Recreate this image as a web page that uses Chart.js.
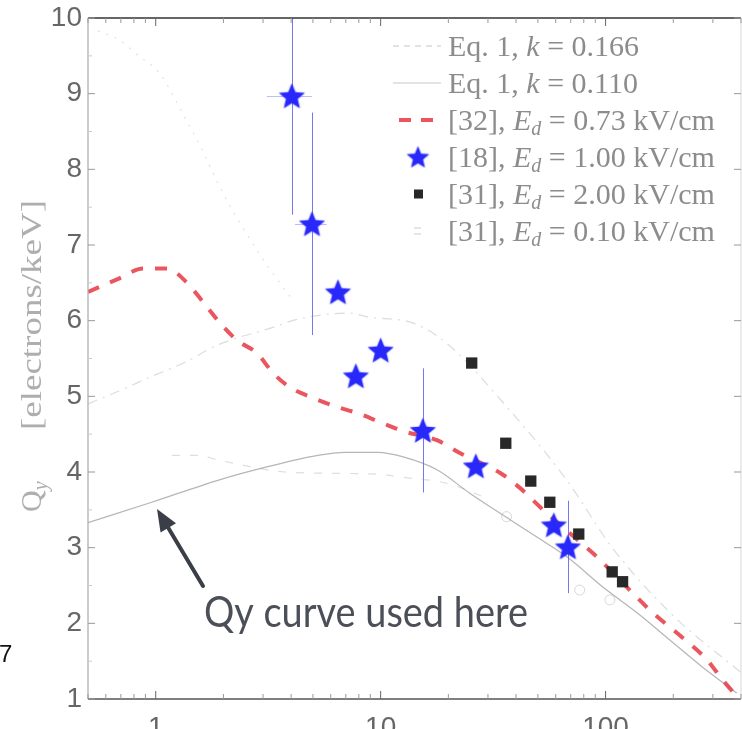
<!DOCTYPE html>
<html><head><meta charset="utf-8">
<script src="https://cdn.jsdelivr.net/npm/chart.js@4.4.0/dist/chart.umd.min.js"></script>
<style>
html,body{margin:0;padding:0;overflow:hidden;background:#fff;width:742px;height:729px}
#wrap{position:absolute;left:0;top:0;width:742px;height:760px}
canvas{display:block}
</style></head><body><div id="wrap"><canvas id="c" width="742" height="760"></canvas></div>
<script>
// ---------- data ----------
const xTickValues = [1, 10, 100];
const xTickLabels = ['1', '10', '100'];
const yTickValues = [1, 2, 3, 4, 5, 6, 7, 8, 9, 10];

// Eq. 1, k = 0.166 (dash-dot, faint)
const eq166X = [0.5, 0.75, 0.92, 1.35, 1.89, 3.39, 4.16, 7.3, 8.7, 13.9, 19.7, 36.4, 67.3, 107, 200, 400];
const eq166Y = [4.9, 5.12, 5.24, 5.45, 5.68, 5.92, 6.01, 6.10, 6.05, 5.97, 5.70, 4.86, 3.89, 3.0, 2.1, 1.35];

// Eq. 1, k = 0.110 (solid, faint)
const eq110X = [0.5, 0.96, 1.89, 3.15, 5.26, 6.94, 9.72, 12.6, 17.8, 24.9, 37.6, 49.5, 67.3, 97.2, 138, 193, 270, 383];
const eq110Y = [3.33, 3.60, 3.89, 4.07, 4.22, 4.26, 4.26, 4.20, 4.03, 3.72, 3.37, 3.14, 2.88, 2.48, 2.14, 1.78, 1.42, 1.08];

// [32], Ed = 0.73 kV/cm (red dashed)
const ref32X = [0.5, 0.69, 0.88, 1.12, 1.38, 1.62, 1.93, 2.30, 2.82, 3.32, 3.95, 5.0, 6.4, 7.85, 9.93, 12.6, 17.8, 22.5, 33.9, 41.6, 51.0, 69.4, 91.4, 128, 162, 220, 282, 332, 395];
const ref32Y = [6.38, 6.56, 6.69, 6.69, 6.50, 6.25, 5.97, 5.74, 5.57, 5.31, 5.12, 4.98, 4.86, 4.78, 4.66, 4.54, 4.42, 4.25, 3.99, 3.79, 3.54, 3.19, 2.88, 2.44, 2.14, 1.81, 1.52, 1.25, 0.99];

// [18], Ed = 1.00 kV/cm (blue stars)
const ref18X = [4.03, 4.95, 6.46, 7.76, 10.0, 15.4, 26.5, 58.9, 68];
const ref18Y = [8.97, 7.28, 6.38, 5.27, 5.61, 4.55, 4.08, 3.30, 3.01];
const ref18YErr = [1.57, 1.47, 0, 0, 0, 0.82, 0, 0, 0.61];
const ref18XLow = [3.12, 4.16, null, null, null, null, null, null, null];
const ref18XHigh = [4.95, 5.76, null, null, null, null, null, null, null];

// [31], Ed = 2.00 kV/cm (black squares)
const ref31aX = [25.4, 36.0, 46.5, 56.5, 76, 107, 119];
const ref31aY = [5.44, 4.38, 3.88, 3.60, 3.18, 2.68, 2.55];

// [31], Ed = 0.10 kV/cm (faint markers)
const ref31bX = [36.3, 76.7, 104.5];
const ref31bY = [3.41, 2.44, 2.31];

// further faint curves without legend entry
const extraTopX = [0.553, 0.69, 0.83, 1.04, 1.35, 1.57, 1.97, 2.97, 4.07];
const extraTopY = [9.83, 9.71, 9.51, 9.27, 8.68, 8.32, 7.71, 6.83, 6.27];
const extraDashX = [1.18, 1.52, 1.89, 2.35, 3.75, 9.72, 12.6, 19.7, 30];
const extraDashY = [4.22, 4.22, 4.16, 4.10, 4.00, 3.97, 3.93, 3.85, 3.65];

const legendLabels = [
  [['Eq. 1, ', 'r'], ['k', 'i'], [' = 0.166', 'r']],
  [['Eq. 1, ', 'r'], ['k', 'i'], [' = 0.110', 'r']],
  [['[32], ', 'r'], ['E', 'i'], ['d', 's'], [' = 0.73 kV/cm', 'r']],
  [['[18], ', 'r'], ['E', 'i'], ['d', 's'], [' = 1.00 kV/cm', 'r']],
  [['[31], ', 'r'], ['E', 'i'], ['d', 's'], [' = 2.00 kV/cm', 'r']],
  [['[31], ', 'r'], ['E', 'i'], ['d', 's'], [' = 0.10 kV/cm', 'r']]
];
const yTitleMain = 'Q';
const yTitleSub = 'y';
const yTitleUnit = '[electrons/keV]';
const annotationText = 'Qy curve used here';

// ---------- helpers ----------
const pts = (xs, ys) => xs.map((x, i) => ({x: x, y: ys[i]}));
function makeStar(size, color) {
  const c = document.createElement('canvas');
  c.width = size; c.height = size;
  const g = c.getContext('2d');
  g.fillStyle = color;
  g.shadowColor = 'rgba(60,60,255,0.45)';
  g.shadowBlur = 2;
  g.beginPath();
  for (let i = 0; i < 10; i++) {
    const r = i % 2 ? size * 0.21 : size * 0.47;
    const a = -Math.PI / 2 + i * Math.PI / 5;
    g.lineTo(size / 2 + r * Math.cos(a), size / 2 + size * 0.04 + r * Math.sin(a));
  }
  g.closePath(); g.fill();
  return c;
}
const starImg = makeStar(29, 'rgb(40,40,250)');
const starLegend = makeStar(25, 'rgb(40,40,250)');

const RED = 'rgba(232,62,72,0.88)';
const mono = 'monotone';

const datasets = [
  {label: 'extraTop', data: pts(extraTopX, extraTopY), showLine: true, borderColor: 'rgba(160,160,160,0.3)', borderWidth: 1.2, borderDash: [2, 7], pointRadius: 0, cubicInterpolationMode: mono, order: 9},
  {label: 'extraDash', data: pts(extraDashX, extraDashY), showLine: true, borderColor: 'rgba(160,160,160,0.35)', borderWidth: 1.2, borderDash: [8, 10], pointRadius: 0, cubicInterpolationMode: mono, order: 9},
  {label: 'Eq. 1, k = 0.166', data: pts(eq166X, eq166Y), showLine: true, borderColor: 'rgba(150,150,150,0.33)', borderWidth: 1.2, borderDash: [10, 6, 2, 6], pointRadius: 0, cubicInterpolationMode: mono, order: 8},
  {label: 'Eq. 1, k = 0.110', data: pts(eq110X, eq110Y), showLine: true, borderColor: 'rgba(120,120,130,0.55)', borderWidth: 1.2, pointRadius: 0, cubicInterpolationMode: mono, order: 7},
  {label: '[32] Ed = 0.73 kV/cm', data: pts(ref32X, ref32Y), showLine: true, borderColor: RED, borderWidth: 4, borderDash: [12, 12], pointRadius: 0, cubicInterpolationMode: mono, order: 5},
  {label: '[31] Ed = 0.10 kV/cm', data: pts(ref31bX, ref31bY), showLine: false, pointStyle: 'circle', pointRadius: 5, backgroundColor: 'rgba(0,0,0,0)', borderColor: 'rgba(170,170,170,0.45)', pointBorderWidth: 1, order: 4},
  {label: '[31] Ed = 2.00 kV/cm', data: pts(ref31aX, ref31aY), showLine: false, pointStyle: 'rect', pointRadius: 8, backgroundColor: 'rgb(40,40,40)', borderColor: 'rgb(40,40,40)', pointBorderWidth: 0, order: 3},
  {label: '[18] Ed = 1.00 kV/cm', data: pts(ref18X, ref18Y), showLine: false, pointStyle: starImg, pointRadius: 14, order: 2}
];

const overlay = {
  id: 'overlay',
  beforeDatasetsDraw(chart) {
    const ctx = chart.ctx, xs = chart.scales.x, ys = chart.scales.y, ca = chart.chartArea;
    ctx.save();
    ctx.beginPath(); ctx.rect(ca.left, ca.top, ca.right - ca.left, ca.bottom - ca.top); ctx.clip();
    ctx.lineWidth = 1;
    ref18X.forEach((x, i) => {
      const px = Math.round(xs.getPixelForValue(x)) + 0.5;
      if (ref18YErr[i] > 0) {
        ctx.strokeStyle = 'rgba(60,60,240,0.7)';
        ctx.beginPath();
        ctx.moveTo(px, ys.getPixelForValue(ref18Y[i] - ref18YErr[i]));
        ctx.lineTo(px, ys.getPixelForValue(ref18Y[i] + ref18YErr[i]));
        ctx.stroke();
      }
      if (ref18XLow[i] !== null) {
        const py = Math.round(ys.getPixelForValue(ref18Y[i])) + 0.5;
        ctx.strokeStyle = 'rgba(90,90,240,0.4)';
        ctx.beginPath();
        ctx.moveTo(xs.getPixelForValue(ref18XLow[i]), py);
        ctx.lineTo(xs.getPixelForValue(ref18XHigh[i]), py);
        ctx.stroke();
      }
    });
    ctx.restore();
  },
  afterDraw(chart) {
    const ctx = chart.ctx, xs = chart.scales.x, ys = chart.scales.y, ca = chart.chartArea;
    const L = ca.left, R = ca.right, T = ca.top, B = ca.bottom;
    ctx.save();
    // axes lines
    ctx.lineWidth = 1.5;
    ctx.strokeStyle = '#555';
    ctx.beginPath(); ctx.moveTo(L, B); ctx.lineTo(R, B); ctx.stroke();
    ctx.strokeStyle = '#333';
    ctx.beginPath(); ctx.moveTo(L, T); ctx.lineTo(R, T); ctx.stroke();
    ctx.lineWidth = 1.2;
    ctx.strokeStyle = '#aaa';
    ctx.beginPath(); ctx.moveTo(L, T); ctx.lineTo(L, B); ctx.stroke();
    ctx.strokeStyle = '#ddd';
    ctx.beginPath(); ctx.moveTo(R, T); ctx.lineTo(R, B); ctx.stroke();
    // y ticks (inward)
    ctx.lineWidth = 1;
    yTickValues.forEach(v => {
      const py = ys.getPixelForValue(v);
      ctx.strokeStyle = '#999';
      ctx.beginPath(); ctx.moveTo(L, py); ctx.lineTo(L + 7, py); ctx.moveTo(R, py); ctx.lineTo(R - 7, py); ctx.stroke();
      if (v < 10) {
        const pm = ys.getPixelForValue(v + 0.5);
        ctx.strokeStyle = '#ccc';
        ctx.beginPath(); ctx.moveTo(L, pm); ctx.lineTo(L + 4, pm); ctx.stroke();
      }
    });
    // x ticks (inward, log minors)
    for (let dec = 0.1; dec <= 100; dec *= 10) {
      for (let m = 1; m <= 9; m++) {
        const v = dec * m;
        if (v < 0.5 || v > 400) continue;
        const px = xs.getPixelForValue(v);
        const len = m === 1 ? 8 : 5;
        ctx.strokeStyle = m === 1 ? '#666' : '#999';
        ctx.beginPath(); ctx.moveTo(px, B); ctx.lineTo(px, B - len); ctx.moveTo(px, T); ctx.lineTo(px, T + len); ctx.stroke();
      }
    }
    // legend
    const lx0 = 393, lx1 = 441, ltx = 448, rows = [46, 83, 120, 157, 194, 231];
    const serif = '"Liberation Serif", "DejaVu Serif", serif';
    const fsz = 30;
    rows.forEach((ry, i) => {
      ctx.save();
      if (i === 0) { ctx.strokeStyle = 'rgba(150,150,150,0.55)'; ctx.lineWidth = 1.2; ctx.setLineDash([6, 5]); ctx.beginPath(); ctx.moveTo(lx0, ry); ctx.lineTo(lx1, ry); ctx.stroke(); }
      if (i === 1) { ctx.strokeStyle = 'rgba(130,130,140,0.45)'; ctx.lineWidth = 1.2; ctx.beginPath(); ctx.moveTo(lx0, ry); ctx.lineTo(lx1, ry); ctx.stroke(); }
      if (i === 2) { ctx.strokeStyle = RED; ctx.lineWidth = 4; ctx.setLineDash([12, 10]); ctx.beginPath(); ctx.moveTo(lx0 + 6, ry); ctx.lineTo(lx1, ry); ctx.stroke(); }
      if (i === 3) { ctx.drawImage(starLegend, 418 - 12.5, ry - 12.5); }
      if (i === 4) { ctx.fillStyle = 'rgb(40,40,40)'; ctx.fillRect(414, ry - 4.5, 9, 9); }
      if (i === 5) { ctx.strokeStyle = 'rgba(170,170,170,0.6)'; ctx.lineWidth = 1; ctx.beginPath(); ctx.moveTo(414, ry - 3); ctx.lineTo(421, ry - 3); ctx.moveTo(414, ry + 3); ctx.lineTo(421, ry + 3); ctx.stroke(); }
      ctx.restore();
      let x = ltx;
      const base = ry + 10;
      ctx.fillStyle = '#8c8c8c';
      ctx.textBaseline = 'alphabetic';
      legendLabels[i].forEach(([t, f]) => {
        let font = fsz + 'px ' + serif, dy = 0;
        if (f === 'i') font = 'italic ' + fsz + 'px ' + serif;
        if (f === 's') { font = 'italic ' + Math.round(fsz * 0.68) + 'px ' + serif; dy = 5; }
        ctx.font = font;
        ctx.fillText(t, x, base + dy);
        x += ctx.measureText(t).width;
      });
    });
    // y-axis title (rotated, reads bottom to top)
    ctx.save();
    ctx.translate(41, 0);
    ctx.rotate(-Math.PI / 2);
    ctx.fillStyle = '#aeaeae';
    ctx.font = '30px ' + serif;
    ctx.fillText(yTitleMain, -512, 0);
    const qW = ctx.measureText(yTitleMain).width;
    ctx.font = 'italic 20px ' + serif;
    ctx.fillText(yTitleSub, -512 + qW, 6);
    ctx.font = '30px ' + serif;
    const uW = ctx.measureText(yTitleUnit).width;
    ctx.save();
    ctx.translate(-430, 0);
    ctx.scale(230 / uW, 1);
    ctx.fillText(yTitleUnit, 0, 0);
    ctx.restore();
    ctx.restore();
    // annotation arrow
    ctx.save();
    const ax0 = 203, ay0 = 586, ax1 = 157, ay1 = 509;
    const ang = Math.atan2(ay1 - ay0, ax1 - ax0);
    ctx.strokeStyle = '#3a3e46'; ctx.fillStyle = '#3a3e46'; ctx.lineWidth = 4; ctx.lineCap = 'round';
    ctx.beginPath(); ctx.moveTo(ax0, ay0); ctx.lineTo(ax1 - 14 * Math.cos(ang), ay1 - 14 * Math.sin(ang)); ctx.stroke();
    ctx.beginPath();
    ctx.moveTo(ax1, ay1);
    ctx.lineTo(ax1 - 22 * Math.cos(ang) + 9 * Math.sin(ang), ay1 - 22 * Math.sin(ang) - 9 * Math.cos(ang));
    ctx.lineTo(ax1 - 22 * Math.cos(ang) - 9 * Math.sin(ang), ay1 - 22 * Math.sin(ang) + 9 * Math.cos(ang));
    ctx.closePath(); ctx.fill();
    ctx.restore();
    // annotation text
    ctx.save();
    ctx.font = '42px Lato, "Open Sans", sans-serif';
    const w = ctx.measureText(annotationText).width;
    ctx.translate(204, 627);
    ctx.scale(324 / w, 1);
    ctx.fillStyle = '#4b4f58';
    ctx.fillText(annotationText, 0, 0);
    ctx.restore();
    // stray fragment at left edge
    ctx.font = '24px "Liberation Sans", Arial, sans-serif';
    ctx.fillStyle = '#111';
    ctx.fillText('7', -1, 662);
    ctx.restore();
  }
};

new Chart(document.getElementById('c'), {
  type: 'scatter',
  data: {datasets: datasets},
  options: {
    responsive: false,
    animation: false,
    layout: {autoPadding: false, padding: {top: 18, right: 1, left: 0, bottom: 0}},
    plugins: {legend: {display: false}, tooltip: {enabled: false}},
    elements: {line: {fill: false}},
    scales: {
      x: {
        type: 'logarithmic', min: 0.5, max: 400,
        afterBuildTicks: s => { s.ticks = xTickValues.map(v => ({value: v})); },
        ticks: {callback: (v, i) => xTickLabels[i], font: {family: '"Liberation Sans", Arial, sans-serif', size: 28}, color: '#666', maxRotation: 0, autoSkip: false, padding: 12},
        grid: {display: false, drawTicks: false},
        border: {display: false},
        afterFit: s => { s.height = 61; s.paddingLeft = 0; s.paddingRight = 0; }
      },
      y: {
        min: 1, max: 10,
        afterBuildTicks: s => { s.ticks = yTickValues.map(v => ({value: v})); },
        ticks: {font: {family: '"Liberation Sans", Arial, sans-serif', size: 28}, color: '#666', padding: 6},
        grid: {display: false, drawTicks: false},
        border: {display: false},
        afterFit: s => { s.width = 88; s.paddingTop = 0; s.paddingBottom = 0; }
      }
    }
  },
  plugins: [overlay]
});
</script>
</body></html>
